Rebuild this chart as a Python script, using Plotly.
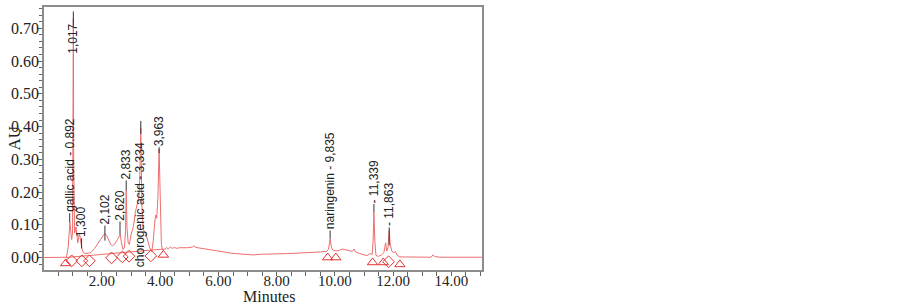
import plotly.graph_objects as go

# ---- chromatogram trace (minutes, AU) ----
time_min = [0.01, 0.50, 0.78, 0.84, 0.87, 0.90, 0.93, 0.96, 0.99, 1.005, 1.017, 1.03, 1.06, 1.09,
            1.11, 1.14, 1.17, 1.20, 1.23, 1.27, 1.31, 1.36, 1.45, 1.55, 1.65, 1.75, 1.85, 1.95,
            2.03, 2.10, 2.16, 2.22, 2.30, 2.36, 2.45, 2.53, 2.60, 2.63, 2.67, 2.72, 2.77, 2.81,
            2.833, 2.86, 2.90, 2.94, 3.00, 3.08, 3.15, 3.22, 3.27, 3.30, 3.334, 3.37, 3.42, 3.50,
            3.57, 3.64, 3.71, 3.76, 3.82, 3.85, 3.88, 3.92, 3.963, 4.00, 4.04, 4.08, 4.15, 4.22,
            4.28, 4.35, 4.42, 4.49, 4.56, 4.66, 4.80, 4.95, 5.10, 5.15, 5.22, 5.35, 5.50, 5.65,
            5.82, 6.00, 6.20, 6.40, 6.60, 6.80, 7.00, 7.20, 7.45, 7.70, 8.00, 8.30, 8.60, 8.90,
            9.20, 9.50, 9.70, 9.78, 9.835, 9.88, 9.95, 10.05, 10.15, 10.25, 10.35, 10.50, 10.60,
            10.66, 10.70, 10.85, 11.00, 11.10, 11.20, 11.28, 11.31, 11.339, 11.37, 11.41, 11.50,
            11.60, 11.68, 11.74, 11.78, 11.82, 11.863, 11.90, 11.95, 12.02, 12.08, 12.15, 12.23,
            12.60, 13.00, 13.30, 13.37, 13.42, 13.60, 14.20, 15.05]
absorbance = [0.000, 0.000, 0.001, 0.030, 0.075, 0.108, 0.080, 0.055, 0.075, 0.300, 0.730, 0.300,
              0.075, 0.085, 0.093, 0.065, 0.045, 0.060, 0.075, 0.050, 0.028, 0.015, 0.012, 0.013,
              0.018, 0.028, 0.040, 0.055, 0.066, 0.073, 0.068, 0.055, 0.040, 0.036, 0.043, 0.055,
              0.068, 0.070, 0.045, 0.025, 0.030, 0.080, 0.205, 0.090, 0.045, 0.040, 0.070, 0.095,
              0.140, 0.170, 0.185, 0.250, 0.396, 0.160, 0.085, 0.075, 0.050, 0.030, 0.018, 0.050,
              0.115, 0.130, 0.120, 0.180, 0.331, 0.150, 0.040, 0.024, 0.025, 0.030, 0.027, 0.032,
              0.028, 0.031, 0.028, 0.030, 0.029, 0.030, 0.032, 0.036, 0.031, 0.029, 0.026, 0.025,
              0.022, 0.020, 0.017, 0.014, 0.012, 0.010, 0.008, 0.008, 0.010, 0.010, 0.011, 0.012,
              0.013, 0.014, 0.015, 0.017, 0.019, 0.025, 0.058, 0.030, 0.022, 0.020, 0.022, 0.026,
              0.024, 0.020, 0.019, 0.026, 0.018, 0.012, 0.008, 0.006, 0.012, 0.010, 0.050, 0.139,
              0.050, 0.006, 0.004, 0.008, 0.015, 0.045, 0.020, 0.030, 0.083, 0.040, 0.020, 0.015,
              0.018, 0.006, 0.002, 0.001, 0.001, 0.001, 0.008, 0.003, 0.001, 0.001, 0.001]

# integration baseline drawn under the first peak cluster
baseline_t = [0.755, 4.11]
baseline_v = [0.000, 0.026]

# peak start / end markers
tri_t = [0.755, 4.11, 9.75, 10.03, 11.29, 11.66, 12.23]
tri_v = [-0.018, 0.008, 0.000, 0.000, -0.015, -0.015, -0.021]
dia_t = [0.96, 1.31, 1.57, 2.33, 2.70, 2.93, 3.68, 11.84]
dia_v = [-0.010, -0.010, -0.010, -0.001, 0.002, 0.004, 0.005, -0.013]

# peak labels
peak_t = [0.892, 1.017, 1.300, 2.102, 2.620, 2.833, 3.334, 3.963, 9.835, 11.339, 11.863]
peak_v = [0.108, 0.730, 0.028, 0.073, 0.070, 0.205, 0.396, 0.331, 0.058, 0.139, 0.083]
peak_text = ["gallic acid - 0.892", "1,017", "1,300", "2,102", "2,620", "2,833",
             "chorogenic acid - 3,334", "3,963", "naringenin - 9,835", "- 11,339", "- 11,863"]

# label layout (pixel offsets relative to apex; positive = up)
label_shift = [9, -36, 10, 8, 13, 10, -140, 2, 8, 8, 3]
line_lo = [0, -8, 0, -7, 0, 0, -6, -4, 0, 0, -15]
line_hi = [9, 7, 10, 8, 13, 10, 7, 2, 8, 8, 3]

x_ticks = [2, 4, 6, 8, 10, 12, 14]

LINE_RED = "rgb(238,110,110)"
MARK_RED = "rgb(228,50,50)"

fig = go.Figure()
fig.add_trace(go.Scatter(x=baseline_t, y=baseline_v, mode="lines",
                         line=dict(color=LINE_RED, width=1), hoverinfo="skip"))
fig.add_trace(go.Scatter(x=time_min, y=absorbance, mode="lines",
                         line=dict(color=LINE_RED, width=1)))
fig.add_trace(go.Scatter(x=tri_t, y=tri_v, mode="markers",
                         marker=dict(symbol="triangle-up-open", size=9,
                                     color=MARK_RED, line=dict(width=1))))
fig.add_trace(go.Scatter(x=dia_t, y=dia_v, mode="markers",
                         marker=dict(symbol="diamond-open", size=9,
                                     color=MARK_RED, line=dict(width=1))))

for t, v, txt, sh, lo, hi in zip(peak_t, peak_v, peak_text, label_shift, line_lo, line_hi):
    fig.add_shape(type="line", xref="x", yref="y", ysizemode="pixel", yanchor=v,
                  x0=t, x1=t, y0=lo, y1=hi, line=dict(color="#333333", width=1))
    fig.add_annotation(x=t, y=v, xref="x", yref="y", text=txt, showarrow=False,
                       textangle=-90, xanchor="center", yanchor="bottom", yshift=sh,
                       borderpad=0,
                       font=dict(family="Liberation Sans, Arial", size=12, color="#222222"))

fig.add_annotation(x=(269 - 44) / 438, y=-0.099, xref="paper", yref="paper",
                   text="Minutes", showarrow=False, xanchor="center", yanchor="middle",
                   font=dict(family="Liberation Serif, Times New Roman", size=16, color="#222222"))
fig.add_annotation(x=(14 - 44) / 438, y=0.5, xref="paper", yref="paper",
                   text="AU", showarrow=False, textangle=-90, xanchor="center", yanchor="middle",
                   font=dict(family="Liberation Serif, Times New Roman", size=17, color="#222222"))

serif_y = dict(family="Liberation Serif, Times New Roman", size=16, color="#222222")
serif_x = dict(family="Liberation Serif, Times New Roman", size=15, color="#222222")

fig.update_layout(
    width=903, height=304,
    margin=dict(l=44, r=421, t=5, b=34),
    paper_bgcolor="white", plot_bgcolor="white",
    showlegend=False,
    xaxis=dict(range=[0.01, 15.05], tickmode="array", tickvals=x_ticks, tickformat=".2f",
               ticks="outside", ticklen=4, tickcolor="#666666", ticklabelstandoff=-8,
               minor=dict(tickmode="linear", tick0=0, dtick=0.5, ticks="outside", ticklen=4,
                          tickcolor="#666666"),
               showgrid=False, zeroline=False, showline=True, mirror=True,
               linecolor="#8c8c8c", linewidth=1.5, tickfont=serif_x),
    yaxis=dict(range=[-0.038, 0.765], dtick=0.1, tick0=0, tickformat=".2f",
               ticks="outside", ticklen=4, tickcolor="#666666", ticklabelstandoff=-4,
               minor=dict(dtick=0.02, ticks="outside", ticklen=3, tickcolor="#666666"),
               showgrid=False, zeroline=False, showline=True, mirror=True,
               linecolor="#8c8c8c", linewidth=1.5, tickfont=serif_y),
)

fig.write_html("out.html", config={"displayModeBar": False},
               post_script="document.body.style.margin='0';document.body.style.padding='0';"
                           "document.body.style.overflow='hidden';")
